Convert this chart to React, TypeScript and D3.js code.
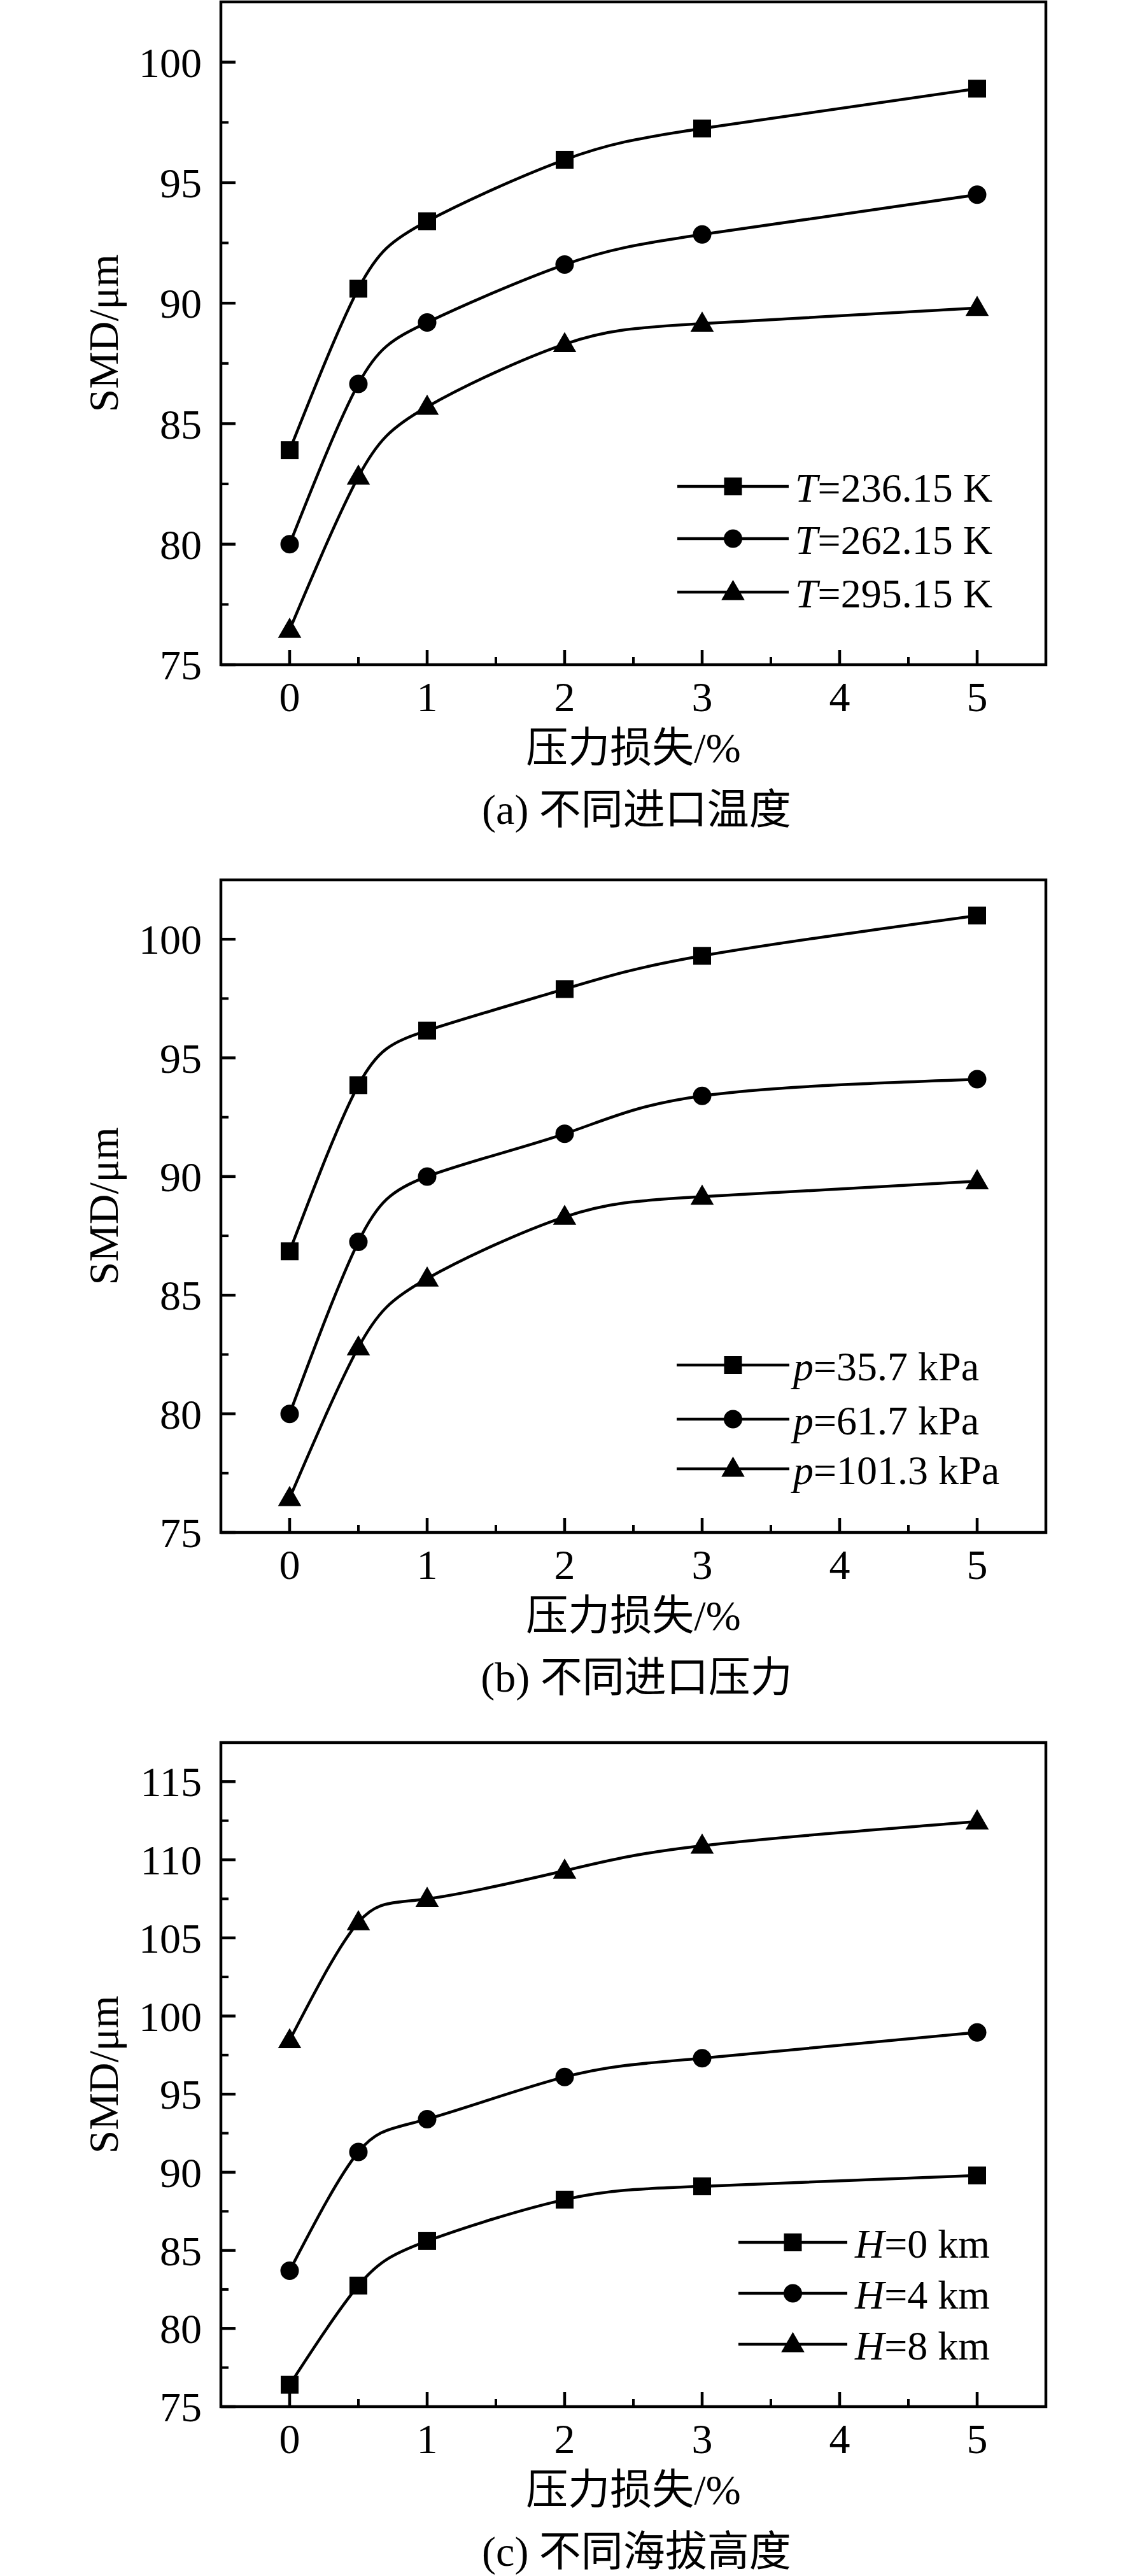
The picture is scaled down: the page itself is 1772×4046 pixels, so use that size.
import { useEffect, useRef } from 'react'
import * as d3 from 'd3'

// pressure loss (%) at which SMD was computed
const X_VALUES = [0, 0.5, 1, 2, 3, 5]
const X_TICKS = [0, 1, 2, 3, 4, 5]
const X_MINOR = [0.5, 1.5, 2.5, 3.5, 4.5]

// (a) inlet temperature
const T_236 = [83.9, 90.6, 93.4, 95.95, 97.25, 98.9]
const T_262 = [80.0, 86.65, 89.2, 91.6, 92.85, 94.5]
const T_295 = [76.45, 82.8, 85.7, 88.3, 89.15, 89.8]

// (b) inlet pressure
const P_357 = [86.85, 93.85, 96.15, 97.9, 99.3, 101.0]
const P_617 = [80.0, 87.25, 90.0, 91.8, 93.4, 94.1]
const P_1013 = [76.45, 82.8, 85.7, 88.3, 89.15, 89.8]

// (c) altitude
const H_0 = [76.4, 82.75, 85.6, 88.25, 89.1, 89.8]
const H_4 = [83.7, 91.3, 93.4, 96.1, 97.3, 98.95]
const H_8 = [98.45, 106.0, 107.5, 109.3, 110.9, 112.45]

const Y_TICKS_AB = [75, 80, 85, 90, 95, 100]
const Y_MINOR_AB = [77.5, 82.5, 87.5, 92.5, 97.5]
const Y_TICKS_C = [75, 80, 85, 90, 95, 100, 105, 110, 115]
const Y_MINOR_C = [77.5, 82.5, 87.5, 92.5, 97.5, 102.5, 107.5, 112.5]

const X_TITLE = '压力损失/%'
const Y_TITLE = 'SMD/μm'

type Marker = 'square' | 'circle' | 'triangle'

interface Series {
  values: number[]
  marker: Marker
  variable: string
  label: string
}

interface PanelSpec {
  top: number
  bottom: number
  yDomain: [number, number]
  yTicks: number[]
  yMinor: number[]
  series: Series[]
  legendLine: [number, number]
  legendText: number
  legendRows: number[]
  caption: string
}

const PANELS: PanelSpec[] = [
  {
    top: 3, bottom: 1044, yDomain: [75, 102.5], yTicks: Y_TICKS_AB, yMinor: Y_MINOR_AB,
    series: [
      { values: T_236, marker: 'square', variable: 'T', label: '=236.15 K' },
      { values: T_262, marker: 'circle', variable: 'T', label: '=262.15 K' },
      { values: T_295, marker: 'triangle', variable: 'T', label: '=295.15 K' },
    ],
    legendLine: [1064, 1239], legendText: 1249, legendRows: [-280, -198, -114],
    caption: '(a) 不同进口温度',
  },
  {
    top: 1382, bottom: 2407, yDomain: [75, 102.5], yTicks: Y_TICKS_AB, yMinor: Y_MINOR_AB,
    series: [
      { values: P_357, marker: 'square', variable: 'p', label: '=35.7 kPa' },
      { values: P_617, marker: 'circle', variable: 'p', label: '=61.7 kPa' },
      { values: P_1013, marker: 'triangle', variable: 'p', label: '=101.3 kPa' },
    ],
    legendLine: [1063, 1240], legendText: 1246, legendRows: [-263, -178, -100],
    caption: '(b) 不同进口压力',
  },
  {
    top: 2737, bottom: 3780, yDomain: [75, 117.5], yTicks: Y_TICKS_C, yMinor: Y_MINOR_C,
    series: [
      { values: H_0, marker: 'square', variable: 'H', label: '=0 km' },
      { values: H_4, marker: 'circle', variable: 'H', label: '=4 km' },
      { values: H_8, marker: 'triangle', variable: 'H', label: '=8 km' },
    ],
    legendLine: [1160, 1331], legendText: 1343, legendRows: [-258, -178, -98],
    caption: '(c) 不同海拔高度',
  },
]

const LEFT = 347
const RIGHT = 1643
const FONT = "'Liberation Serif', 'Times New Roman', 'Noto Sans CJK SC', serif"

function drawMarker(g: d3.Selection<SVGGElement, unknown, null, undefined>, marker: Marker, x: number, y: number) {
  if (marker === 'square') {
    g.append('rect').attr('x', x - 14).attr('y', y - 14).attr('width', 28).attr('height', 28).attr('fill', '#000')
  } else if (marker === 'circle') {
    g.append('circle').attr('cx', x).attr('cy', y).attr('r', 14.5).attr('fill', '#000')
  } else {
    g.append('path')
      .attr('d', d3.symbol(d3.symbolTriangle, 580)() as string)
      .attr('transform', `translate(${x},${y + 2})`)
      .attr('fill', '#000')
  }
}

function Panel({ spec }: { spec: PanelSpec }) {
  const ref = useRef<SVGGElement>(null)

  useEffect(() => {
    if (!ref.current) return
    const g = d3.select(ref.current)
    g.selectAll('*').remove()

    const x = d3.scaleLinear().domain([-0.5, 5.5]).range([LEFT, RIGHT])
    const y = d3.scaleLinear().domain(spec.yDomain).range([spec.bottom, spec.top])

    // series curves and markers
    spec.series.forEach(s => {
      const pts = X_VALUES.map((v, i) => [x(v), y(s.values[i])] as [number, number])
      g.append('path')
        .attr('d', d3.line().curve(d3.curveNatural)(pts) as string)
        .attr('fill', 'none')
        .attr('stroke', '#000')
        .attr('stroke-width', 4.5)
      pts.forEach(([px, py]) => drawMarker(g, s.marker, px, py))
    })

    // frame
    g.append('rect')
      .attr('x', LEFT).attr('y', spec.top)
      .attr('width', RIGHT - LEFT).attr('height', spec.bottom - spec.top)
      .attr('fill', 'none').attr('stroke', '#000').attr('stroke-width', 4.5)

    // x ticks (inward)
    X_TICKS.forEach(t => {
      g.append('line').attr('x1', x(t)).attr('x2', x(t))
        .attr('y1', spec.bottom).attr('y2', spec.bottom - 23)
        .attr('stroke', '#000').attr('stroke-width', 4.5)
      g.append('text').attr('x', x(t)).attr('y', spec.bottom + 73)
        .attr('text-anchor', 'middle').attr('font-size', 66).attr('font-family', FONT)
        .text(t)
    })
    X_MINOR.forEach(t => {
      g.append('line').attr('x1', x(t)).attr('x2', x(t))
        .attr('y1', spec.bottom).attr('y2', spec.bottom - 12)
        .attr('stroke', '#000').attr('stroke-width', 4)
    })

    // y ticks (inward)
    spec.yTicks.forEach(t => {
      g.append('line').attr('x1', LEFT).attr('x2', LEFT + 23)
        .attr('y1', y(t)).attr('y2', y(t))
        .attr('stroke', '#000').attr('stroke-width', 4.5)
      g.append('text').attr('x', LEFT - 30).attr('y', y(t)).attr('dy', '0.35em')
        .attr('text-anchor', 'end').attr('font-size', 66).attr('font-family', FONT)
        .text(t)
    })
    spec.yMinor.forEach(t => {
      g.append('line').attr('x1', LEFT).attr('x2', LEFT + 12)
        .attr('y1', y(t)).attr('y2', y(t))
        .attr('stroke', '#000').attr('stroke-width', 4)
    })

    // axis titles
    const midX = (LEFT + RIGHT) / 2
    g.append('text').attr('x', midX).attr('y', spec.bottom + 153)
      .attr('text-anchor', 'middle').attr('font-size', 66).attr('font-family', FONT)
      .text(X_TITLE)
    g.append('text')
      .attr('transform', `translate(162,${(spec.top + spec.bottom) / 2}) rotate(-90)`)
      .attr('dy', '0.35em')
      .attr('text-anchor', 'middle').attr('font-size', 66).attr('font-family', FONT)
      .text(Y_TITLE)

    // caption
    g.append('text').attr('x', midX + 5).attr('y', spec.bottom + 250)
      .attr('text-anchor', 'middle').attr('font-size', 66).attr('font-family', FONT)
      .text(spec.caption)

    // legend
    spec.series.forEach((s, i) => {
      const ly = spec.bottom + spec.legendRows[i]
      const [l1, l2] = spec.legendLine
      g.append('line').attr('x1', l1).attr('x2', l2).attr('y1', ly).attr('y2', ly)
        .attr('stroke', '#000').attr('stroke-width', 4.5)
      drawMarker(g, s.marker, (l1 + l2) / 2, ly)
      const txt = g.append('text').attr('x', spec.legendText).attr('y', ly).attr('dy', '0.38em')
        .attr('font-size', 64).attr('font-family', FONT)
      txt.append('tspan').attr('font-style', 'italic').text(s.variable)
      txt.append('tspan').text(s.label)
    })
  }, [spec])

  return <g ref={ref} />
}

export default function App() {
  return (
    <svg
      width={1772}
      height={4046}
      style={{ position: 'absolute', left: 0, top: 0, background: '#fff' }}
    >
      <rect width={1772} height={4046} fill="#fff" />
      {PANELS.map((p, i) => <Panel key={i} spec={p} />)}
    </svg>
  )
}
